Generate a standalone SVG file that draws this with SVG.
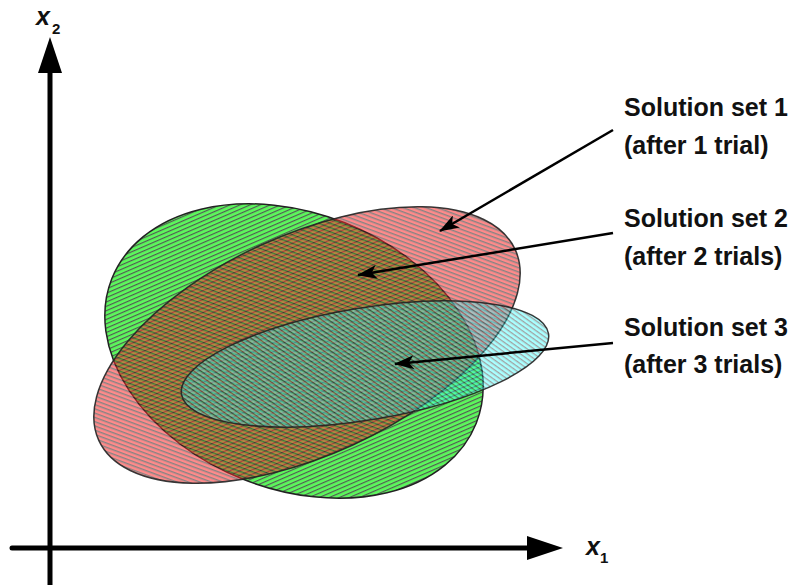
<svg xmlns="http://www.w3.org/2000/svg" width="796" height="585" viewBox="0 0 796 585">
<style>
  .lbl { font-family: "Liberation Sans", Arial, sans-serif; font-weight: bold; font-size: 25px; fill: #111; }
  .ax { font-family: "Liberation Sans", Arial, sans-serif; font-weight: bold; fill: #111; }
  .axis { stroke: #000; stroke-width: 5; stroke-linecap: round; fill: none; }
  .ptr { stroke: #000; stroke-width: 2.5; fill: none; marker-end: url(#head); }
  .edge { stroke: #222; stroke-width: 1.5; }
</style>
<defs>
  <pattern id="pGreen" patternUnits="userSpaceOnUse" width="4" height="4" patternTransform="rotate(-45)">
    <rect width="4" height="4" fill="#5cf85c"/>
    <rect width="4" height="1.15" fill="#555555"/>
  </pattern>
  <pattern id="pRed" patternUnits="userSpaceOnUse" width="4" height="4" patternTransform="rotate(45)">
    <rect width="4" height="4" fill="#ff2a2a"/>
    <rect width="4" height="1.4" fill="#202020"/>
  </pattern>
  <pattern id="pCyan" patternUnits="userSpaceOnUse" width="4" height="4" patternTransform="rotate(45)">
    <rect width="4" height="4" fill="#40ffff"/>
    <rect width="4" height="1.3" fill="#303030"/>
  </pattern>
  <marker id="head" viewBox="0 0 20 14" refX="19" refY="7" markerWidth="20" markerHeight="14" markerUnits="userSpaceOnUse" orient="auto">
    <path d="M0,0 L20,7 L0,14 L5,7 Z" fill="#000"/>
  </marker>
</defs>

<g id="set2">
  <ellipse cx="294" cy="351" rx="196" ry="138" transform="rotate(21.6 294 351)" fill="url(#pGreen)" class="edge"/>
</g>
<g id="set1">
  <ellipse cx="307" cy="345" rx="229" ry="110" transform="rotate(-24.6 307 345)" fill="url(#pRed)" fill-opacity="0.55" class="edge" stroke-opacity="0.9"/>
</g>
<g id="set3">
  <ellipse cx="365" cy="364" rx="186" ry="56" transform="rotate(-9.4 365 364)" fill="url(#pCyan)" fill-opacity="0.45" class="edge" stroke-opacity="0.9"/>
</g>

<g id="axes">
  <line class="axis" x1="50" y1="590" x2="50" y2="70"/>
  <polygon points="50,37 62,73 38,73" fill="#000"/>
  <line class="axis" x1="12" y1="548" x2="530" y2="548"/>
  <polygon points="563,548 527,536 527,560" fill="#000"/>
  <text class="ax" x="36" y="25" font-size="25" font-style="italic">x</text>
  <text class="ax" x="52" y="34" font-size="15">2</text>
  <text class="ax" x="586" y="555" font-size="25" font-style="italic">x</text>
  <text class="ax" x="600" y="563" font-size="15">1</text>
</g>

<g id="connectors">
  <line class="ptr" x1="613" y1="130" x2="440" y2="231"/>
  <line class="ptr" x1="613" y1="233" x2="358" y2="275"/>
  <line class="ptr" x1="613" y1="343" x2="395" y2="364"/>
</g>

<g id="label1">
  <text class="lbl" x="624" y="116">Solution set 1</text>
  <text class="lbl" x="624" y="154">(after 1 trial)</text>
</g>
<g id="label2">
  <text class="lbl" x="624" y="227">Solution set 2</text>
  <text class="lbl" x="624" y="265">(after 2 trials)</text>
</g>
<g id="label3">
  <text class="lbl" x="624" y="336">Solution set 3</text>
  <text class="lbl" x="624" y="373">(after 3 trials)</text>
</g>
</svg>
